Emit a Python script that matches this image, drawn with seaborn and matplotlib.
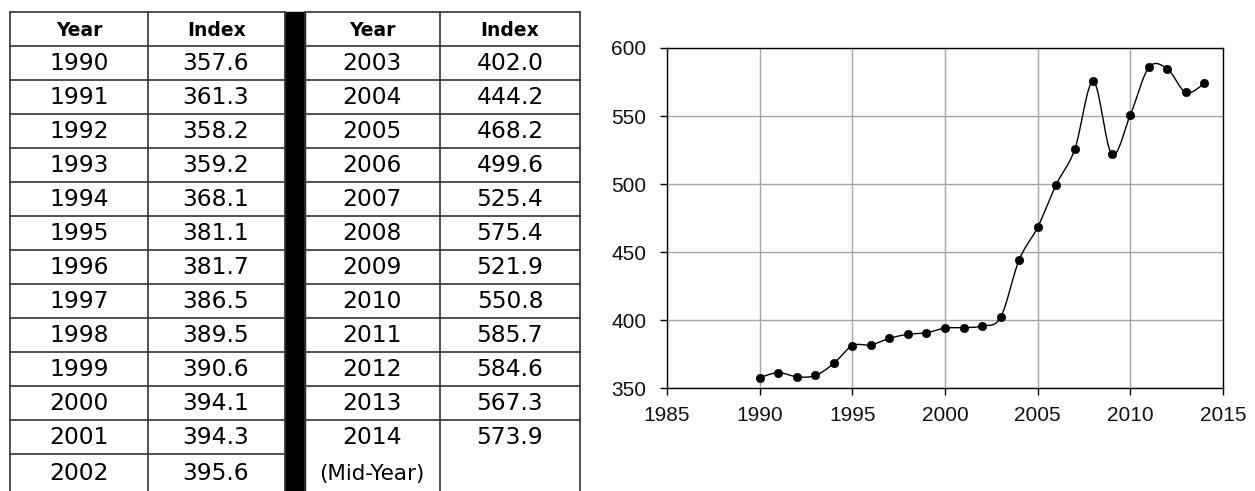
import numpy as np
import pandas as pd
import matplotlib
matplotlib.use("Agg")
import matplotlib.pyplot as plt
import seaborn as sns

years = [1990, 1991, 1992, 1993, 1994, 1995, 1996, 1997, 1998, 1999, 2000, 2001, 2002,
         2003, 2004, 2005, 2006, 2007, 2008, 2009, 2010, 2011, 2012, 2013, 2014]
index_vals = [357.6, 361.3, 358.2, 359.2, 368.1, 381.1, 381.7, 386.5, 389.5, 390.6, 394.1, 394.3, 395.6,
              402.0, 444.2, 468.2, 499.6, 525.4, 575.4, 521.9, 550.8, 585.7, 584.6, 567.3, 573.9]
x_ticks = [1985, 1990, 1995, 2000, 2005, 2010, 2015]
y_ticks = [350, 400, 450, 500, 550, 600]

df = pd.DataFrame({"Year": years, "Index": index_vals})

sns.set_style("white")
plt.rcParams["text.color"] = "black"
W, H = 1255, 491
fig = plt.figure(figsize=(W / 100, H / 100), dpi=100)

# =========================
# Table (drawn in pixel space)
# =========================
tab = fig.add_axes([0, 0, 1, 1])
tab.set_xlim(0, W)
tab.set_ylim(H, 0)
tab.axis("off")

lc = "#333333"
top, head_b, row_h = 12, 46, 34

for x in [10, 148, 285, 305, 440, 580]:
    tab.plot([x, x], [top, H + 5], color=lc, lw=1.2)
tab.fill_between([285, 305], top, H + 5, color="black")
tab.plot([10, 285], [top, top], color=lc, lw=1.2)
tab.plot([305, 580], [top, top], color=lc, lw=1.2)

# row lines: 13 on the left half, 12 on the right (last right cell is merged)
for i in range(13):
    y = head_b + i * row_h
    tab.plot([10, 285], [y, y], color=lc, lw=1.2)
for i in range(12):
    y = head_b + i * row_h
    tab.plot([305, 580], [y, y], color=lc, lw=1.2)

hy = (top + head_b) / 2 + 1
for c0, c1, lab in [(10, 148, "Year"), (148, 285, "Index"), (305, 440, "Year"), (440, 580, "Index")]:
    tab.text((c0 + c1) / 2, hy, lab, ha="center", va="center", fontsize=13.5, fontweight="bold")

left_years, left_vals = years[:13], index_vals[:13]
right_years, right_vals = years[13:], index_vals[13:]
for i, (yr, v) in enumerate(zip(left_years, left_vals)):
    yc = head_b + i * row_h + row_h / 2 + (3 if i == 12 else 0)
    tab.text(79, yc, str(yr), ha="center", va="center", fontsize=16.8)
    tab.text(216, yc, f"{v:.1f}", ha="center", va="center", fontsize=16.8)
for i, (yr, v) in enumerate(zip(right_years, right_vals)):
    yc = head_b + i * row_h + row_h / 2
    tab.text(372, yc, str(yr), ha="center", va="center", fontsize=16.8)
    tab.text(510, yc, f"{v:.1f}", ha="center", va="center", fontsize=16.8)
tab.text(372, head_b + 12 * row_h + row_h / 2 + 3, "(Mid-Year)", ha="center", va="center", fontsize=15.5)

# =========================
# Line chart
# =========================
ax = fig.add_axes([667 / W, 1 - 388 / H, (1223 - 667) / W, (388 - 48) / H])
ax.set_xlim(1985, 2015)
ax.set_ylim(350, 600)

# Excel-style smoothed line (Bezier through the points, screen-scaled)
sx = 556 / 30.0
sy = 340 / 250.0
P = np.column_stack([np.array(years, float) * sx, np.array(index_vals, float) * sy])
Pext = np.vstack([P[0], P, P[-1]])
t = np.linspace(0, 1, 20)[:, None]
curve = []
for i in range(1, len(Pext) - 2):
    p0, p1, p2, p3 = Pext[i - 1], Pext[i], Pext[i + 1], Pext[i + 2]
    c1 = p1 + (p2 - p0) / 6
    c2 = p2 - (p3 - p1) / 6
    curve.append((1 - t) ** 3 * p1 + 3 * (1 - t) ** 2 * t * c1 + 3 * (1 - t) * t ** 2 * c2 + t ** 3 * p2)
curve = np.vstack(curve)
smooth = pd.DataFrame({"Year": curve[:, 0] / sx, "Index": curve[:, 1] / sy})

sns.lineplot(data=smooth, x="Year", y="Index", sort=False, ax=ax, color="black", lw=1.0)
sns.scatterplot(data=df, x="Year", y="Index", ax=ax, color="black", s=36, edgecolor="black", zorder=5)

ax.set_xticks(x_ticks)
ax.set_yticks(y_ticks)
ax.grid(True, color="#a6a6a6", lw=1.0)
ax.set_axisbelow(True)
for s in ax.spines.values():
    s.set_color("black")
    s.set_linewidth(1.0)
ax.set_xlabel("")
ax.set_ylabel("")
ax.tick_params(axis="x", bottom=True, direction="out", length=5, width=1, color="black", pad=8)
ax.tick_params(axis="y", left=True, direction="out", length=5, width=1, color="black", pad=10)
for lab in ax.get_xticklabels() + ax.get_yticklabels():
    lab.set_family(["Liberation Sans", "DejaVu Sans"])
    lab.set_fontsize(15)
    lab.set_color("#111111")

fig.savefig("out.png", dpi=100)
